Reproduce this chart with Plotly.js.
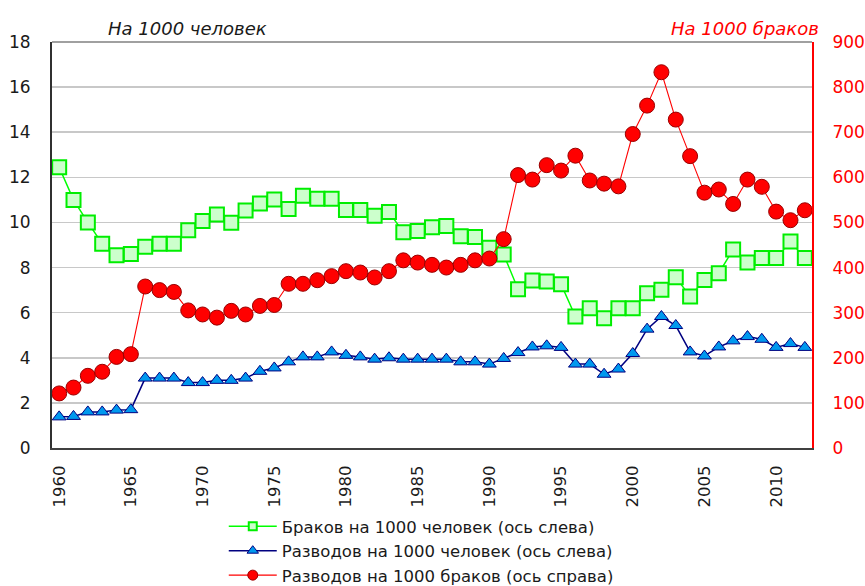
<!DOCTYPE html>
<html>
<head>
<meta charset="utf-8">
<script src="https://cdn.plot.ly/plotly-3.0.1.min.js"></script>
<style>
html,body{margin:0;padding:0;background:#fff;}
#chart{width:865px;height:586px;}
.legend .traces{opacity:1 !important;}
</style>
</head>
<body>
<div id="chart"></div>
<script>
const years = [];
for (let y = 1960; y <= 2012; y++) years.push(y);

const marriagesPer1000 = [12.45, 11.0, 10.0, 9.06, 8.55, 8.6, 8.92, 9.06, 9.06, 9.65,
  10.06, 10.35, 9.99, 10.53, 10.84, 11.02, 10.6, 11.18, 11.05, 11.05,
  10.55, 10.55, 10.3, 10.46, 9.57, 9.62, 9.79, 9.84, 9.39, 9.35,
  8.88, 8.58, 7.04, 7.43, 7.38, 7.26, 5.83, 6.2, 5.75, 6.2,
  6.2, 6.86, 7.02, 7.57, 6.72, 7.45, 7.75, 8.8, 8.22, 8.42,
  8.42, 9.15, 8.42];

const divorcesPer1000 = [1.38, 1.4, 1.6, 1.6, 1.68, 1.7, 3.1, 3.1, 3.1, 2.9,
  2.9, 3.0, 3.0, 3.1, 3.4, 3.55, 3.82, 4.04, 4.04, 4.26,
  4.11, 4.04, 3.94, 4.0, 3.94, 3.94, 3.94, 3.94, 3.82, 3.82,
  3.72, 3.97, 4.23, 4.48, 4.53, 4.46, 3.72, 3.72, 3.27, 3.5,
  4.19, 5.27, 5.83, 5.43, 4.26, 4.08, 4.48, 4.75, 4.94, 4.82,
  4.46, 4.63, 4.46];

const divorcesPer1000Marriages = [121, 134, 160, 169, 202, 208, 358, 350, 346, 305,
  296, 289, 304, 296, 315, 317, 364, 364, 372, 381,
  392, 389, 378, 392, 416, 411, 406, 400, 406, 416,
  420, 463, 605, 595, 627, 615, 648, 593, 586, 580,
  696, 759, 833, 728, 647, 566, 573, 541, 595, 579,
  524, 505, 527];

const seriesNames = [
  'Браков на 1000 человек (ось слева)',
  'Разводов на 1000 человек (ось слева)',
  'Разводов на 1000 браков (ось справа)'
];
const leftTitle = 'На 1000 человек';
const rightTitle = 'На 1000 браков';

const styles = [
  {line: {color: '#00ff00', width: 1.5}, sym: 'square', size: 14, fill: '#ccffcc', edge: '#00ee00', ew: 2, lsize: 8, axis: 'y'},
  {line: {color: '#000080', width: 1.5}, sym: 'triangle-up', size: 12, fill: '#0099ee', edge: '#000080', ew: 1, lsize: 10, axis: 'y'},
  {line: {color: '#ff0000', width: 1.1}, sym: 'circle', size: 15, fill: '#ff0000', edge: '#990000', ew: 1, lsize: 10, axis: 'y2'}
];
const dataSets = [marriagesPer1000, divorcesPer1000, divorcesPer1000Marriages];

const traces = [];
dataSets.forEach((vals, i) => {
  const s = styles[i];
  traces.push({
    x: years, y: vals, name: seriesNames[i], type: 'scatter', mode: 'lines+markers',
    yaxis: s.axis, showlegend: false, legendgroup: 'g' + i,
    line: s.line,
    marker: {symbol: s.sym, size: s.size, color: s.fill, line: {color: s.edge, width: s.ew}}
  });
});
// legend entries with smaller symbols
dataSets.forEach((vals, i) => {
  const s = styles[i];
  traces.push({
    x: years, y: vals, name: seriesNames[i], type: 'scatter', mode: 'lines+markers',
    yaxis: s.axis, visible: 'legendonly', legendgroup: 'l' + i,
    line: s.line,
    marker: {symbol: s.sym, size: s.lsize, color: s.fill, line: {color: s.edge, width: s.ew}}
  });
});

const FONT = 'DejaVu Sans, Verdana, sans-serif';

const layout = {
  width: 865, height: 586,
  margin: {l: 52, r: 53, t: 42, b: 138},
  paper_bgcolor: '#ffffff', plot_bgcolor: '#ffffff',
  font: {family: FONT, color: '#1a1a1a'},
  showlegend: true,
  legend: {
    x: 0.226, xanchor: 'left', yref: 'container', y: 1 - 509 / 586, yanchor: 'top',
    orientation: 'v', font: {family: FONT, size: 16.5, color: '#1a1a1a'},
    bgcolor: 'rgba(0,0,0,0)', itemwidth: 48, tracegroupgap: 0
  },
  xaxis: {
    range: [1959.5, 2012.5], tick0: 1960, dtick: 5, tickangle: -90,
    showgrid: false, zeroline: false, showline: true, linecolor: '#404040', linewidth: 2,
    ticks: '', tickfont: {family: FONT, size: 16.5, color: '#1a1a1a'}, ticklabelstandoff: 9
  },
  yaxis: {
    range: [0, 18], dtick: 2, showgrid: true, gridcolor: '#c8c8c8', gridwidth: 1.5,
    zeroline: false, showline: true, linecolor: '#303030', linewidth: 2,
    ticks: '', tickfont: {family: FONT, size: 17, color: '#1a1a1a'}, ticklabelstandoff: 16
  },
  yaxis2: {
    range: [0, 900], dtick: 100, overlaying: 'y', side: 'right',
    showgrid: false, zeroline: false, showline: true, linecolor: '#ff0000', linewidth: 2,
    ticks: '', tickfont: {family: FONT, size: 17, color: '#ff0000'}, ticklabelstandoff: 15
  },
  shapes: [
    {type: 'line', xref: 'paper', yref: 'paper', x0: 0, x1: 1, y0: 1, y1: 1,
     line: {color: '#a0a0a0', width: 2}}
  ],
  annotations: [
    {text: '<i>' + leftTitle + '</i>', xref: 'paper', yref: 'paper', x: 0.178, y: 1.034,
     xanchor: 'center', yanchor: 'middle',
     showarrow: false, font: {family: FONT, size: 18, color: '#1a1a1a'}},
    {text: '<i>' + rightTitle + '</i>', xref: 'paper', yref: 'paper', x: 0.912, y: 1.034,
     xanchor: 'center', yanchor: 'middle',
     showarrow: false, font: {family: FONT, size: 18, color: '#ff0000'}}
  ]
};

Plotly.newPlot('chart', traces, layout, {displayModeBar: false, staticPlot: true});
</script>
</body>
</html>
